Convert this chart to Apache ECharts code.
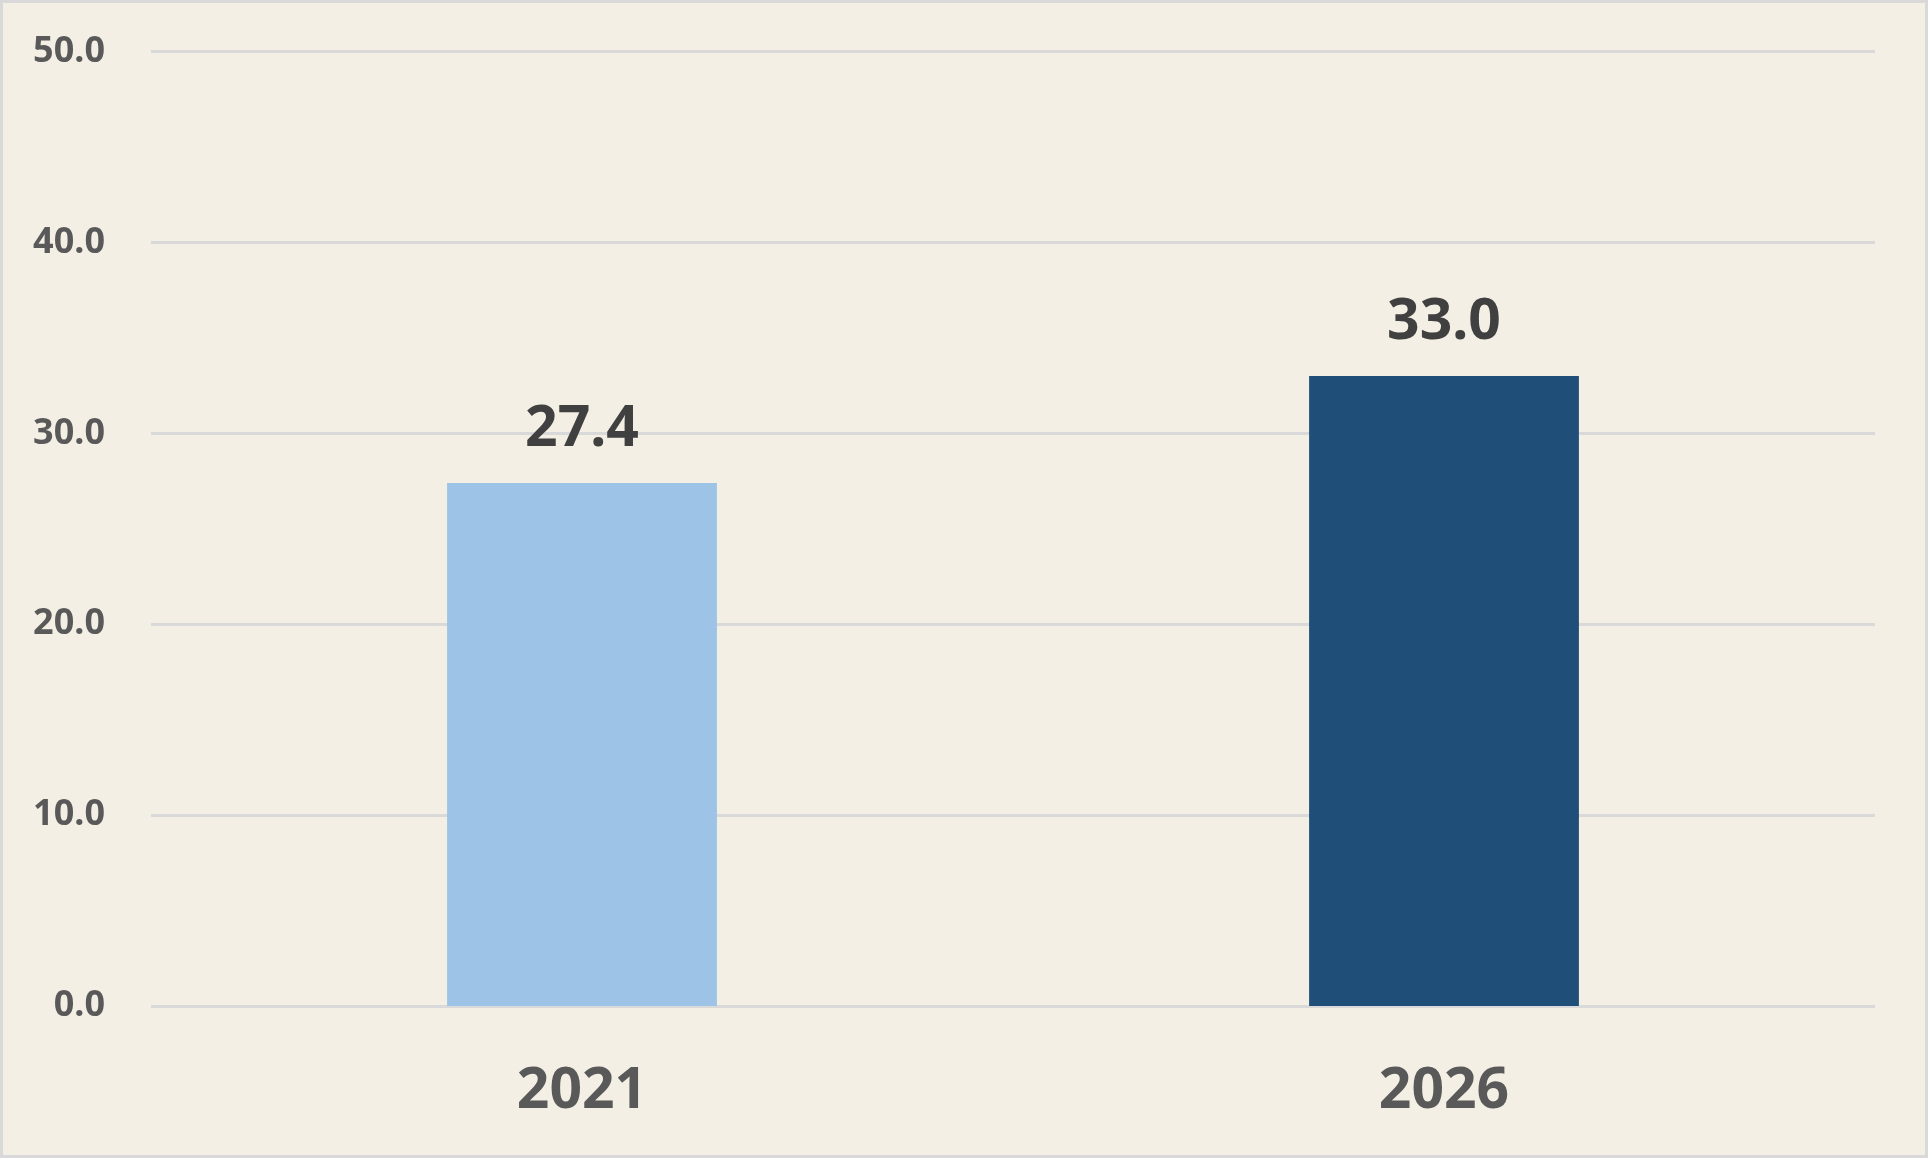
<!DOCTYPE html>
<html>
<head>
<meta charset="utf-8">
<script src="https://cdn.jsdelivr.net/npm/echarts@6/dist/echarts.min.js"></script>
<style>
  html, body { margin: 0; padding: 0; background: #f4efe4; }
  #chart { width: 1922px; height: 1152px; border: 3px solid #d9d9d9; background: #f4efe4; }
</style>
</head>
<body>
<div id="chart"></div>
<script>
  // Chart data
  const years = ['2021', '2026'];
  const values = [27.4, 33.0];
  const barColors = ['#9dc3e6', '#1f4e79'];

  const chart = echarts.init(document.getElementById('chart'), null, { renderer: 'canvas' });

  const option = {
    backgroundColor: '#f4efe4',
    animation: false,
    grid: { left: 148, right: 50, top: 48.5, bottom: 149 },
    xAxis: {
      type: 'category',
      data: years,
      axisLine: { show: false },
      axisTick: { show: false },
      axisLabel: {
        color: '#595959',
        fontFamily: 'Noto Sans',
        fontWeight: 'bold',
        fontSize: 57,
        margin: 57
      },
      splitLine: { show: false }
    },
    yAxis: {
      type: 'value',
      min: 0,
      max: 50,
      interval: 10,
      axisLine: { show: false },
      axisTick: { show: false },
      axisLabel: {
        color: '#595959',
        fontFamily: 'Noto Sans',
        fontWeight: 'bold',
        fontSize: 36,
        margin: 46,
        formatter: function (val) { return val.toFixed(1); }
      },
      splitLine: { lineStyle: { color: '#d9d9d9', width: 3 } }
    },
    series: [{
      type: 'bar',
      data: values.map(function (v, i) {
        return { value: v, itemStyle: { color: barColors[i] } };
      }),
      barWidth: '31.3%',
      z: 3,
      label: {
        show: true,
        position: 'top',
        distance: 25,
        color: '#404040',
        fontFamily: 'Noto Sans',
        fontWeight: 'bold',
        fontSize: 57,
        formatter: function (p) { return p.value.toFixed(1); }
      }
    }]
  };

  chart.setOption(option);
</script>
</body>
</html>
